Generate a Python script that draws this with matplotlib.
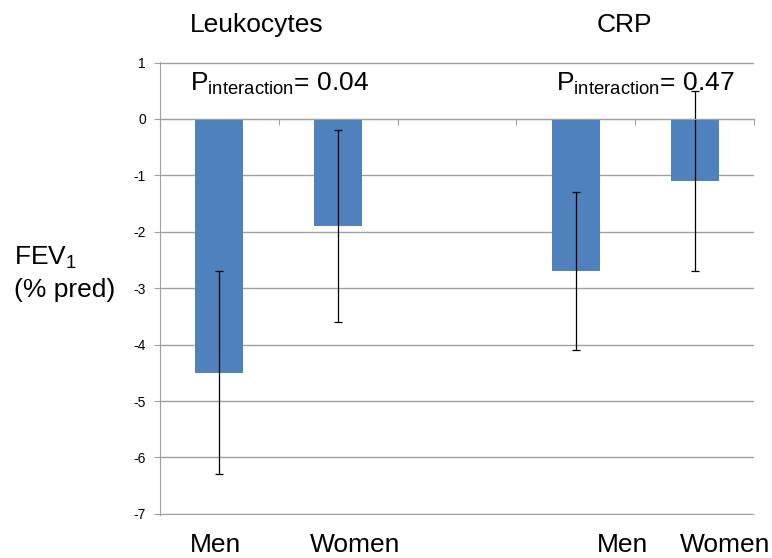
import matplotlib.pyplot as plt
import numpy as np

plt.rcParams['font.family'] = ['Liberation Sans', 'DejaVu Sans']
plt.rcParams['mathtext.fontset'] = 'custom'
plt.rcParams['mathtext.rm'] = 'Liberation Sans'
plt.rcParams['mathtext.it'] = 'Liberation Sans'
plt.rcParams['axes.unicode_minus'] = False

# slots: men, women, (gap), men, women
positions = [0, 1, 3, 4]
values = [-4.5, -1.9, -2.7, -1.1]
errors = [1.8, 1.7, 1.4, 1.6]
group_labels = ["Men", "Women", "Men", "Women"]
group_titles = ["Leukocytes", "CRP"]
p_values = ["0.04", "0.47"]

fig = plt.figure(figsize=(7.72, 5.58), dpi=100)
ax = fig.add_axes([0.207, 0.077, 0.77, 0.812])

ax.bar(positions, values, width=0.4, color="#4F81BD", zorder=3)
ax.errorbar(positions, values, yerr=errors, fmt="none", ecolor="black",
            elinewidth=0.9, capsize=3, capthick=0.9, zorder=4)

ax.set_xlim(-0.5, 4.5)
ax.set_ylim(-7.02, 1.01)
ax.set_yticks(np.arange(-7, 2, 1))
ax.yaxis.grid(True, color="#a0a0a0", linewidth=1, zorder=0)
ax.tick_params(axis="y", labelsize=10, length=4, color="#a0a0a0", pad=6)

ax.spines["top"].set_visible(False)
ax.spines["right"].set_visible(False)
ax.spines["left"].set_color("#a0a0a0")
ax.spines["bottom"].set_position(("data", 0))
ax.spines["bottom"].set_color("#a0a0a0")
ax.spines["bottom"].set_zorder(5)
ax.set_xticks(np.arange(-0.5, 5, 1))
ax.set_xticklabels([])
ax.tick_params(axis="x", length=4, color="#a0a0a0")

# P interaction labels
for x, p in zip([-0.25, 2.83], p_values):
    ax.text(x, 0.5, r"P$_{\mathrm{interaction}}$= " + p, fontsize=19,
            va="baseline", ha="left", zorder=6)

# group titles
fig.text(190 / 772, 1 - 25 / 558, group_titles[0], fontsize=19, va="center")
fig.text(597 / 772, 1 - 25 / 558, group_titles[1], fontsize=19, va="center")

# category labels under the chart
for px, lab in zip([190, 310, 597, 680], group_labels):
    fig.text(px / 772, 1 - 545 / 558, lab, fontsize=19, va="center")

fig.text(14 / 772, 1 - 258 / 558, r"FEV$_{\mathregular{1}}$", fontsize=19, va="center")
fig.text(14 / 772, 1 - 290 / 558, "(% pred)", fontsize=19, va="center")

fig.savefig("out.png", dpi=100)
